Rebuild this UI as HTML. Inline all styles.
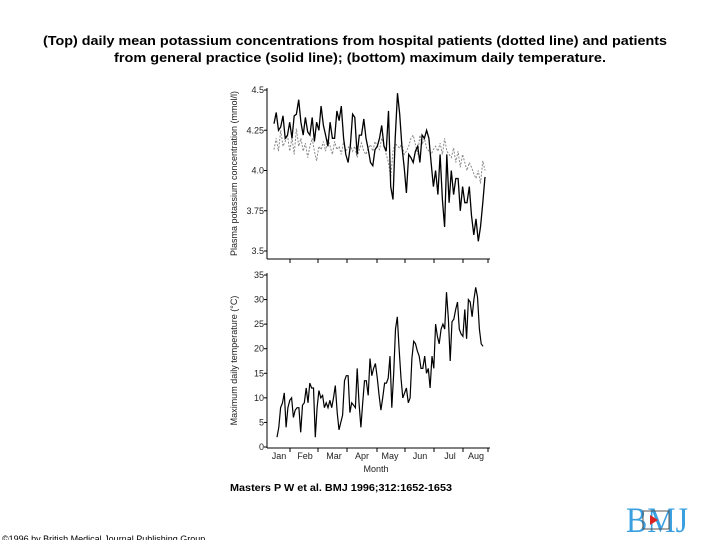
<!DOCTYPE html>
<html><head><meta charset="utf-8"><style>
html,body{margin:0;padding:0;background:#fff;}
svg{display:block;font-family:"Liberation Sans",Arial,sans-serif;}
</style></head><body>
<svg id="fig" width="720" height="540" viewBox="0 0 720 540">
<rect x="0" y="0" width="720" height="540" fill="#fff"/>
<text x="355" y="45" text-anchor="middle" font-size="13" font-weight="bold" textLength="624" lengthAdjust="spacingAndGlyphs">(Top) daily mean potassium concentrations from hospital patients (dotted line) and patients</text>
<text x="360" y="62" text-anchor="middle" font-size="13" font-weight="bold" textLength="492" lengthAdjust="spacingAndGlyphs">from general practice (solid line); (bottom) maximum daily temperature.</text>
<g id="topchart"></g>
<g id="botchart"></g>
<text x="230" y="491" font-size="10" font-weight="bold" textLength="222" lengthAdjust="spacingAndGlyphs">Masters P W et al. BMJ 1996;312:1652-1653</text>
<text x="2" y="542" font-size="9">©1996 by British Medical Journal Publishing Group</text>
<g>
<text x="626" y="532" font-family="Liberation Serif,serif" font-size="36" fill="#3aa0e0" textLength="62" lengthAdjust="spacingAndGlyphs">BMJ</text>
<rect x="643" y="511" width="26" height="18" fill="none" stroke="#555" stroke-width="1"/>
<path d="M650 515 L658 520 L650 525 Z" fill="#d22"/>
</g>
</svg>
<script>
const months=["Jan","Feb","Mar","Apr","May","Jun","Jul","Aug"];
const kTicks=[3.5,3.75,4.0,4.25,4.5];
const kTickLabels=["3.5","3.75","4.0","4.25","4.5"];
const tTicks=[0,5,10,15,20,25,30,35];
const gpPotassium=[4.29,4.36,4.25,4.27,4.34,4.2,4.22,4.3,4.2,4.34,4.35,4.44,4.3,4.22,4.33,4.24,4.22,4.33,4.18,4.3,4.25,4.4,4.28,4.22,4.15,4.3,4.2,4.2,4.37,4.31,4.4,4.2,4.1,4.05,4.15,4.35,4.33,4.1,4.22,4.22,4.32,4.2,4.13,4.05,4.03,4.13,4.15,4.2,4.28,4.15,4.12,4.37,3.9,3.82,4.2,4.48,4.35,4.15,4.02,3.86,4.1,4.08,4.05,4.12,4.15,4.05,4.22,4.2,4.25,4.2,4.05,3.9,4.0,3.85,4.1,3.82,3.65,4.1,3.8,4.0,3.85,3.95,3.95,3.75,3.9,3.8,3.8,3.9,3.72,3.6,3.7,3.56,3.65,3.8,3.96];
const hospPotassium=[4.13,4.2,4.12,4.25,4.15,4.18,4.22,4.12,4.2,4.1,4.26,4.15,4.2,4.12,4.17,4.08,4.15,4.2,4.12,4.06,4.15,4.13,4.18,4.12,4.2,4.15,4.1,4.18,4.13,4.15,4.1,4.18,4.12,4.14,4.16,4.12,4.15,4.08,4.13,4.17,4.12,4.1,4.14,4.16,4.12,4.18,4.15,4.13,4.2,4.16,4.1,4.05,3.95,4.12,4.17,4.15,4.14,4.17,4.1,4.12,4.15,4.2,4.22,4.16,4.1,4.22,4.16,4.2,4.14,4.12,4.1,4.13,4.15,4.12,4.17,4.1,4.2,4.12,4.1,4.08,4.14,4.05,4.12,4.02,4.1,4.05,4.0,4.05,4.02,3.98,3.95,4.0,3.92,4.06,4.0];
const maxTemp=[2,4,8,9,11,4,8,9.5,10,6,7.5,8,8,3,8.5,9,12,9,13,12,12,2,8,11.5,10,10.5,8,9,8,9.5,8,10,12.5,7,3.5,5,6.5,13.5,14.5,14.5,7,9,8.5,8,16,9,4,9,13.5,13.5,10.5,18,14.5,16,17,14,10.5,7.5,10,13,13,14,18.5,8,15,24,26.5,20,14,10,11,12,9,10,18,21.5,21,19.5,18.5,16,16,18.5,15,16,12,18.5,16,25,22.5,21,24,25,24,31.5,26,17.5,25.5,26,28,29.5,24,23,22.5,28,22,30,29.5,26.5,30,32.5,30.5,24,21,20.5];
const NS="http://www.w3.org/2000/svg";
function mk(tag,attrs,parent){const e=document.createElementNS(NS,tag);for(const k in attrs)e.setAttribute(k,attrs[k]);parent.appendChild(e);return e;}
const xL=267,xR=490,tickX=[290,318,347,377,405,434,463,488];
const kY=v=>251-(v-3.5)*161;
const tY=v=>447-v*(172/35);
const dX=(i,n,a,b)=>a+i*(b-a)/(n-1);
const topG=document.getElementById('topchart'),botG=document.getElementById('botchart');
function axes(g,y0,y1,ticks,labels,yf,title,ty){
 let a=mk('line',{x1:xL,y1:y0,x2:xL,y2:y1,stroke:'#000','stroke-width':1},g);
 
 
 let b=mk('line',{x1:xL,y1:y1,x2:xR,y2:y1,stroke:'#000','stroke-width':1},g);
 
 
 ticks.forEach((v,i)=>{
  mk('line',{x1:xL-3,y1:yf(v),x2:xL,y2:yf(v),stroke:'#000'},g);
  const t=mk('text',{x:xL-3,y:yf(v)+3,'text-anchor':'end','font-size':9,fill:'#222'},g);
  t.textContent=labels[i];
  
  
 });
 tickX.forEach(x=>mk('line',{x1:x,y1:y1,x2:x,y2:y1+4,stroke:'#000'},g));
 const tt=mk('text',{x:0,y:0,'text-anchor':'middle','font-size':9,fill:'#222',transform:`translate(${ty},${(y0+y1)/2}) rotate(-90)`},g);
 tt.textContent=title;
 
 
}
axes(topG,88,259,kTicks,kTickLabels,kY,'Plasma potassium concentration (mmol/l)',237);
axes(botG,273,448,tTicks,tTicks.map(String),tY,'Maximum daily temperature (°C)',237);
let pts=hospPotassium.map((v,i)=>dX(i,hospPotassium.length,274,485).toFixed(1)+','+kY(v).toFixed(1)).join(' ');
let p=mk('polyline',{points:pts,fill:'none',stroke:'#888','stroke-width':1,'stroke-dasharray':'2,1.5'},topG);


pts=gpPotassium.map((v,i)=>dX(i,gpPotassium.length,274,485).toFixed(1)+','+kY(v).toFixed(1)).join(' ');
p=mk('polyline',{points:pts,fill:'none',stroke:'#000','stroke-width':1.3},topG);


pts=maxTemp.map((v,i)=>dX(i,maxTemp.length,277,483).toFixed(1)+','+tY(v).toFixed(1)).join(' ');
p=mk('polyline',{points:pts,fill:'none',stroke:'#000','stroke-width':1.2},botG);


const mx=[279,305,334,362,390,420,450,476];
months.forEach((m,i)=>{const t=mk('text',{x:mx[i],y:459,'text-anchor':'middle','font-size':9,fill:'#222'},botG);t.textContent=m;
 
 });
const xt=mk('text',{x:376,y:472,'text-anchor':'middle','font-size':9,fill:'#222'},botG);
xt.textContent='Month';


</script>
</body></html>
